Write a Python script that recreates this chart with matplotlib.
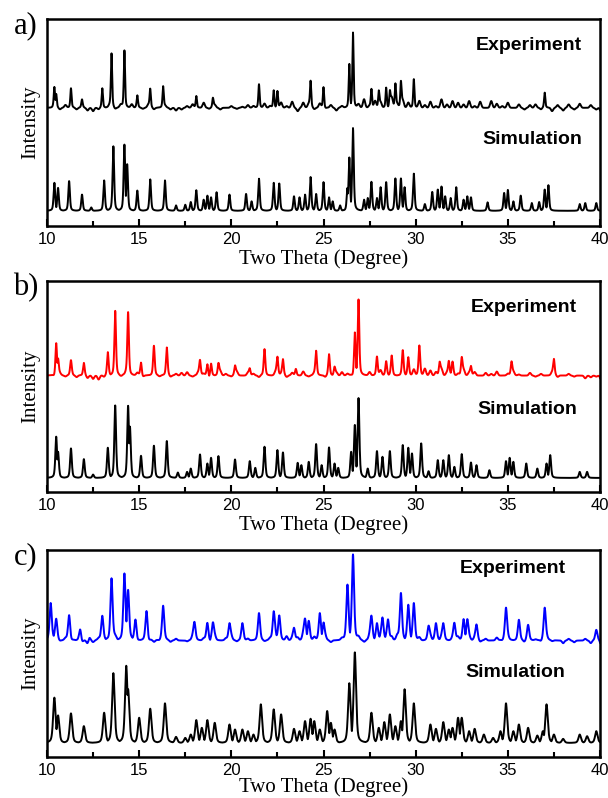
import numpy as np
import matplotlib.pyplot as plt

# peak positions (2theta) and heights (arbitrary units)
sim_a_pos = [10.4, 10.6, 11.2, 11.9, 12.4, 13.1, 13.6, 14.2, 14.35, 14.9, 15.6, 16.4, 17.0, 17.5, 17.8,
             18.1, 18.5, 18.7, 18.9, 19.2, 19.9, 20.8, 21.1, 21.5, 22.3, 22.6, 23.4, 23.7, 24.0, 24.3,
             24.6, 25.0, 25.3, 25.5, 25.9, 26.3, 26.4, 26.6, 27.2, 27.4, 27.6, 27.9, 28.1, 28.4, 28.9,
             29.2, 29.4, 29.9, 30.5, 30.9, 31.2, 31.4, 31.6, 31.9, 32.2, 32.6, 32.8, 33.0, 33.9, 34.8,
             35.0, 35.3, 35.7, 36.3, 36.7, 37.0, 37.2, 38.9, 39.2, 39.8]
sim_a_h = [83, 68, 88, 48, 10, 90, 191, 196, 138, 60, 93, 90, 16, 18, 26,
           61, 33, 45, 40, 55, 48, 50, 28, 95, 83, 81, 43, 40, 48, 100,
           50, 85, 40, 28, 16, 68, 158, 245, 33, 38, 86, 38, 70, 85, 96,
           96, 70, 110, 20, 56, 63, 72, 43, 38, 70, 33, 43, 40, 25, 53,
           62, 28, 45, 23, 26, 63, 76, 20, 23, 23]

exp_a_pos = [10.4, 10.5, 11.3, 11.9, 13.0, 13.5, 14.2, 14.9, 15.6, 16.3, 18.1, 19.0, 21.5, 22.3, 22.5,
             24.3, 25.0, 26.4, 26.6, 27.6, 28.0, 28.4, 28.6, 28.9, 29.2, 29.9, 37.0]
exp_a_h = [57, 40, 58, 20, 58, 160, 170, 32, 55, 63, 35, 28, 70, 52, 50,
           78, 62, 130, 223, 55, 48, 60, 45, 70, 75, 85, 45]
exp_a_noise = [0, 5, -5, 8, 0, -5, 5, -8, -10, -5, 0, 5, -5, 8, 0, 10, 5, -3, 8, -5,
               0, 5, -5, -8, -5, 5, 10, 0, 15, -3, 8, -5, 0, 5, -3, 3, 8, 5, 0, 12,
               5, 0, 15, 5, 18, -10, 15, 10, -5, 12, -3, 8, -8, 5, 0, 0, 10, 25, 5, 20,
               15, 0, 30, 10, 20, 15, 0, 20, 8, 18, 5, 25, 10, 20, 15, 10, 20, 5, 18, 0,
               20, 12, 5, 15, 0, 10, -5, 8, 10, -5, 0, -10, 8, -8, 10, -5, 12, 0, 8, -5, -30]

sim_b_pos = [10.5, 10.6, 11.3, 12.0, 12.5, 13.3, 13.7, 14.4, 14.5, 15.1, 15.8, 16.5, 17.1, 17.6, 17.8,
             18.3, 18.7, 18.9, 19.3, 20.2, 21.0, 21.3, 21.8, 22.5, 22.8, 23.6, 23.8, 24.2, 24.6, 24.9,
             25.3, 25.6, 25.8, 26.5, 26.7, 26.9, 27.4, 27.9, 28.2, 28.6, 29.3, 29.6, 29.8, 30.3, 30.7,
             31.2, 31.5, 31.8, 32.1, 32.5, 33.0, 33.3, 34.0, 34.9, 35.1, 35.3, 36.0, 36.6, 37.1, 37.3,
             38.9, 39.3]
sim_b_h = [123, 78, 88, 56, 10, 90, 216, 215, 153, 66, 96, 110, 16, 18, 28,
           70, 43, 60, 65, 55, 50, 30, 93, 83, 76, 45, 38, 48, 101, 38,
           91, 43, 30, 78, 158, 238, 28, 80, 63, 80, 98, 90, 73, 103, 20,
           53, 53, 68, 33, 71, 46, 38, 23, 50, 60, 48, 43, 28, 43, 68,
           18, 18]

exp_b_pos = [10.5, 10.6, 11.3, 12.0, 13.3, 13.7, 14.4, 15.1, 15.8, 16.5, 18.3, 18.7, 18.9, 19.3, 20.2,
             21.0, 21.8, 22.5, 22.8, 23.5, 24.6, 25.3, 25.6, 26.7, 26.9, 27.9, 28.4, 28.7, 29.3, 29.6,
             30.2, 31.3, 31.8, 32.0, 32.5, 33.0, 35.2, 37.5]
exp_b_h = [98, 50, 38, 38, 70, 188, 188, 40, 84, 84, 45, 35, 37, 35, 28,
           20, 74, 54, 48, 20, 73, 64, 25, 130, 235, 57, 38, 52, 66, 50,
           78, 37, 42, 30, 52, 27, 40, 48]
exp_b_noise = [0, -5, 5, -3, 8, -5, 0, -8, -10, -12, -5, 0, 5, -3, 5, 0, 8, -5, 0, 5,
               -3, 0, -5, 5, 8, 10, -3, 8, 5, -5, 0, 12, 5, -3, 10, 0, 8, 5, -5, 5,
               0, 10, 5, -5, 8, 0, 12, -3, 5, 0, -5, 0, 8, 10, 5, -5, -8, 0, 10, 0,
               15, 5, 8, 0, 10, 5, 18, 12, 20, 15, 10, 18, 8, 12, 5, 15, 8, 10, 0, 8,
               5, 12, 0, 5, 10, 3, 0, 8, -3, 5, 0, 8, -5, 0, 5, -3, 0, -8, -5, -3, -30]

sim_c_pos = [10.4, 10.6, 11.3, 12.0, 13.1, 13.6, 14.3, 14.4, 15.0, 15.6, 16.4, 17.0, 17.5, 17.8, 18.1,
             18.4, 18.7, 19.1, 19.9, 20.2, 20.6, 20.9, 21.2, 21.6, 22.3, 22.7, 23.4, 23.7, 24.0, 24.3,
             24.5, 24.8, 25.2, 25.4, 25.6, 26.4, 26.7, 27.6, 28.0, 28.3, 28.6, 28.9, 29.2, 29.4, 29.9,
             30.8, 31.1, 31.5, 31.8, 32.0, 32.3, 32.5, 32.9, 33.2, 33.7, 34.2, 34.6, 34.9, 35.3, 35.6,
             36.1, 36.6, 36.9, 37.1, 37.5, 38.0, 38.9, 39.3, 39.8]
sim_c_h = [135, 82, 88, 50, 90, 208, 230, 160, 75, 102, 118, 18, 15, 25, 68,
           45, 68, 60, 55, 40, 40, 35, 25, 115, 100, 85, 42, 35, 65, 72,
           65, 40, 95, 60, 40, 178, 270, 90, 45, 62, 85, 50, 65, 160, 118,
           55, 42, 62, 40, 45, 75, 75, 35, 42, 25, 15, 35, 118, 35, 55,
           45, 22, 35, 115, 25, 12, 25, 20, 35]

exp_c_pos = [10.2, 10.5, 11.2, 11.8, 12.3, 13.0, 13.5, 14.2, 14.4, 14.8, 15.4, 16.3, 18.0, 18.7, 19.0,
             19.9, 20.6, 21.5, 22.3, 22.6, 23.4, 24.0, 24.2, 24.8, 25.0, 26.3, 26.6, 27.6, 27.9, 28.2,
             28.5, 29.2, 29.6, 29.9, 30.7, 31.1, 31.5, 32.1, 32.6, 32.8, 33.3, 34.9, 35.6, 36.1, 37.0,
             39.8]
exp_c_h = [112, 64, 77, 35, 10, 74, 187, 199, 150, 64, 90, 104, 54, 54, 52,
           50, 42, 74, 85, 75, 37, 62, 54, 82, 52, 167, 252, 72, 52, 67,
           62, 142, 102, 102, 42, 47, 50, 52, 64, 62, 47, 97, 54, 47, 97,
           22]
exp_c_noise = [0, 5, -3, 5, -5, 0, -8, -10, -5, 5, 0, -5, 8, 0, 5, 3, -5, 0, -8, -5,
               -3, 0, -5, 5, 0, -3, 8, 0, 5, -5, 10, 0, 5, 8, -3, 10, 5, 0, 8, -3,
               5, 10, 0, 12, 5, 8, 15, 5, 10, 0, 8, -5, 0, 5, 0, 5, 8, -5, 10, 0,
               8, 5, 10, 12, 0, 5, 10, 8, 0, 10, 5, 8, 0, 5, 10, 0, 8, 5, -5, 5,
               0, 8, -3, 5, 0, 8, -5, 0, 3, -5, 5, -3, 0, -8, 5, -5, 0, 5, -8, 10, -30]

noise_pos = np.arange(10.1, 40.2, 0.3)[:101]

tt = np.linspace(10, 40, 3001)


def peaks(pos, h, w):
    # pseudo-Voigt peaks, half width w
    y = np.zeros_like(tt)
    for p, a in zip(pos, h):
        d = (tt - p) / w
        shape = 0.5 * np.exp(-np.log(2) * d ** 2) + 0.5 / (1 + d ** 2)
        y = np.maximum(y, a * shape)
    return y


def noise(vals, sigma=0.06):
    y = np.zeros_like(tt)
    for p, a in zip(noise_pos, vals):
        y += a * np.exp(-0.5 * ((tt - p) / sigma) ** 2)
    return y


W, H = 608, 798
fig = plt.figure(figsize=(W / 100, H / 100), dpi=100)

panels = [
    # (label, top px, bottom px, sim, exp, noise, exp colour, widths, ylim, exp text y, sim text y, text right, xlabel pad)
    ('a)', 19, 226, (sim_a_pos, sim_a_h), (exp_a_pos, exp_a_h), exp_a_noise, 'black', (0.05, 0.04), (-45, 568), 0.873, 0.42, 0.968, 2),
    ('b)', 281, 492, (sim_b_pos, sim_b_h), (exp_b_pos, exp_b_h), exp_b_noise, '#ff0000', (0.055, 0.05), (-42, 587), 0.876, 0.39, 0.958, 2),
    ('c)', 550, 757, (sim_c_pos, sim_c_h), (exp_c_pos, exp_c_h), exp_c_noise, '#0000ff', (0.08, 0.07), (-42, 575), 0.91, 0.406, 0.938, 0),
]

offset = 305
for lab, top, bot, sim, exp, nz, col, wid, ylim, ety, sty, tx, lp in panels:
    ax = fig.add_axes([47 / W, (H - bot) / H, 553 / W, (bot - top) / H])
    ax.plot(tt, peaks(sim[0], sim[1], wid[0]), color='black', lw=1.4)
    ax.plot(tt, offset + peaks(exp[0], exp[1], wid[1]) + noise(nz), color=col, lw=1.4)
    ax.set_xlim(10, 40)
    ax.set_ylim(*ylim)
    ax.set_yticks([])
    ax.set_xticks([10, 15, 20, 25, 30, 35, 40])
    ax.set_xticks(np.arange(12.5, 40, 5), minor=True)
    ax.tick_params(axis='x', which='both', direction='in', top=False, labelsize=12, pad=4)
    ax.tick_params(axis='x', which='major', length=5, width=1.5)
    ax.tick_params(axis='x', which='minor', length=3.5, width=1.5)
    for s in ax.spines.values():
        s.set_linewidth(1.8)
    for t in ax.get_xticklabels():
        t.set_fontfamily('Liberation Sans')
    ax.set_xlabel('Two Theta (Degree)', family='Liberation Serif', fontsize=15, labelpad=lp)
    ax.set_ylabel('Intensity', family='Liberation Serif', fontsize=15, labelpad=5)
    ax.text(tx, ety, 'Experiment', transform=ax.transAxes, ha='right', va='center',
            family='Liberation Sans', fontweight='bold', fontsize=14)
    ax.text(tx, sty, 'Simulation', transform=ax.transAxes, ha='right', va='center',
            family='Liberation Sans', fontweight='bold', fontsize=14)
    fig.text(26 / W, 1 - (top + 7) / H, lab, family='Liberation Serif', fontsize=22, ha='center', va='center')

plt.savefig('out.png', dpi=100)
